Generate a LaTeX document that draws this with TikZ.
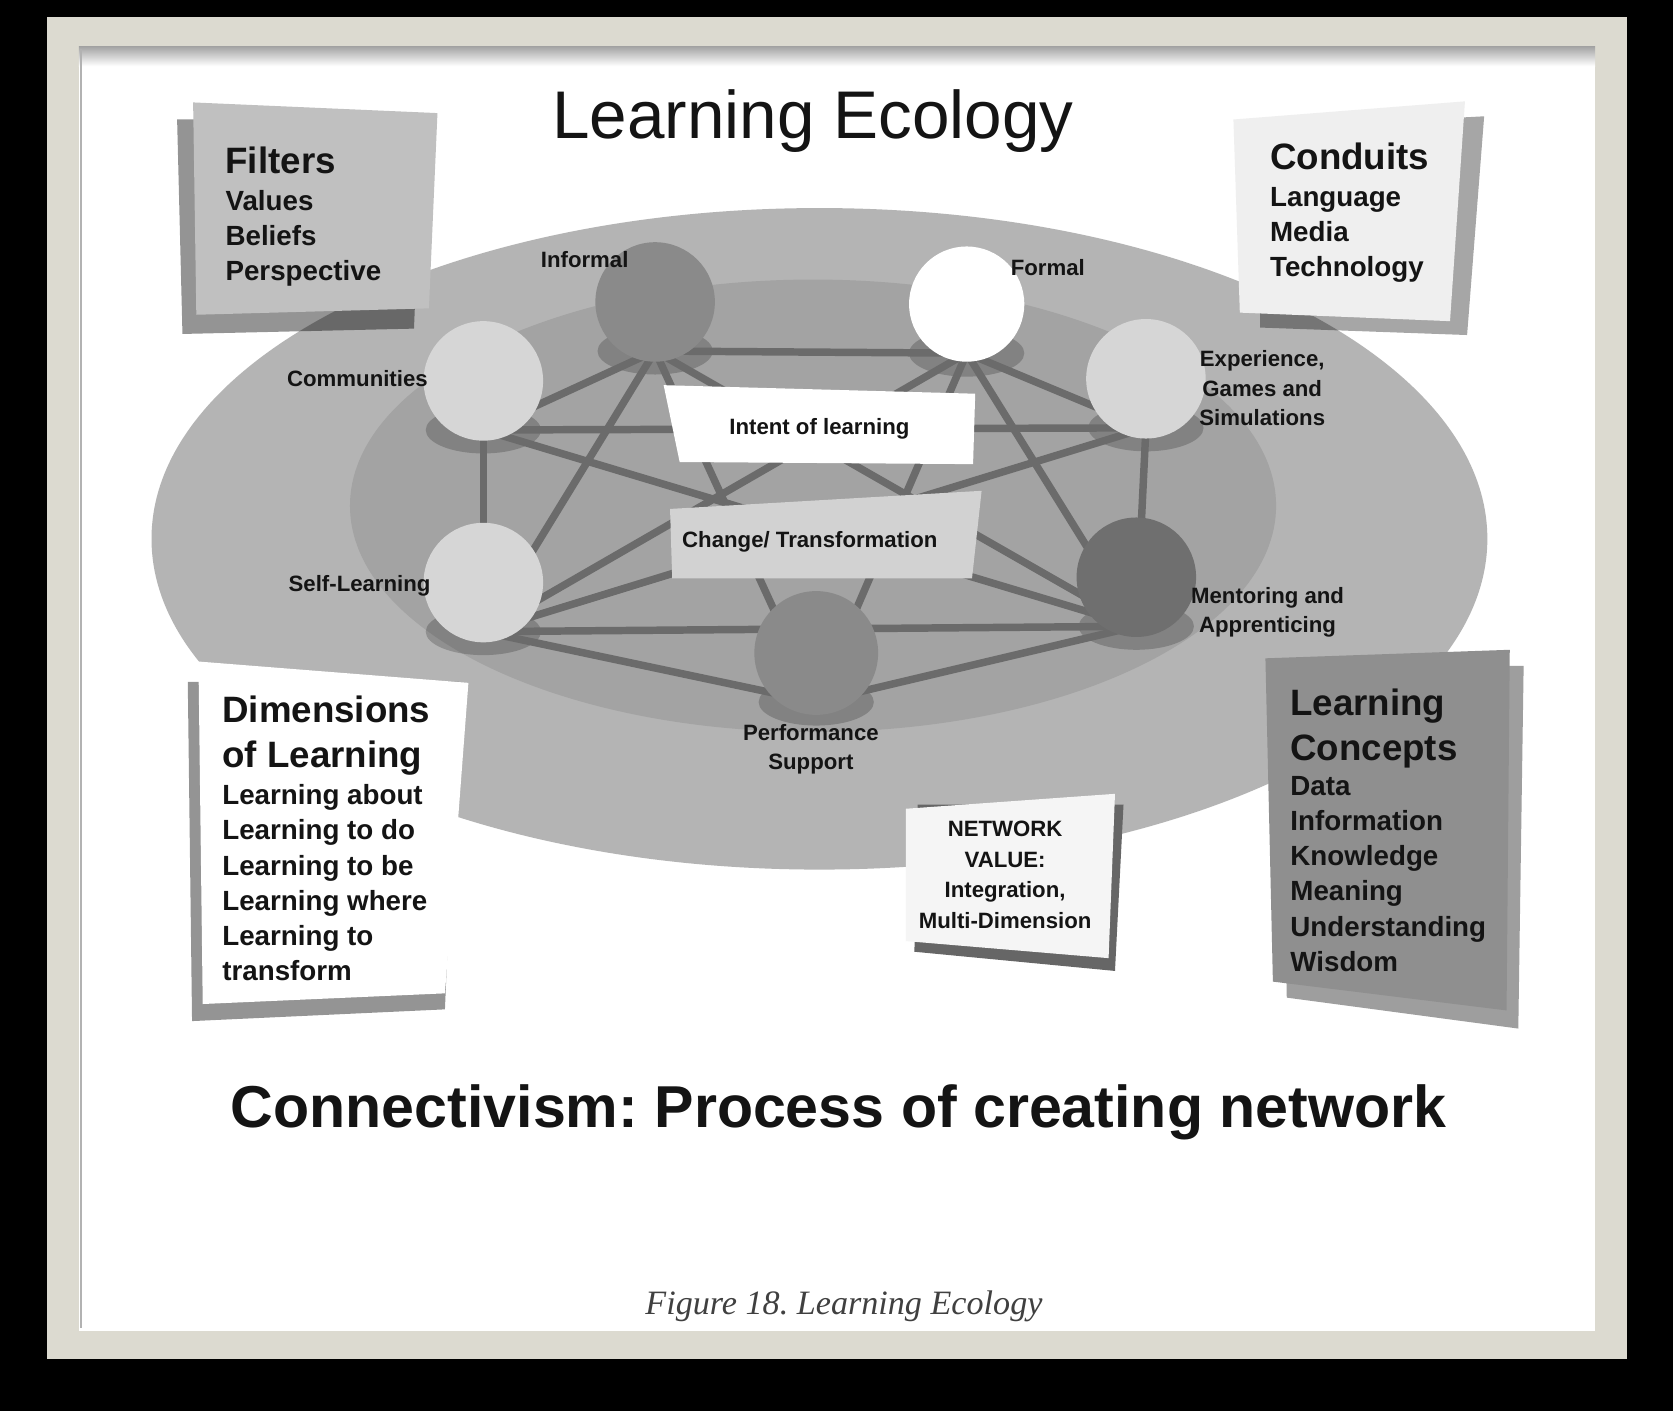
\documentclass[tikz,border=0pt]{standalone}
\usepackage{fontspec}
\setmainfont{Liberation Sans}
\newfontfamily\captionserif{Liberation Serif}
\usetikzlibrary{shapes.geometric}
\frenchspacing

\definecolor{framebeige}{HTML}{DCDAD0}
\definecolor{outerring}{HTML}{B4B4B4}
\definecolor{innerring}{HTML}{A3A3A3}
\definecolor{linkgray}{HTML}{6B6B6B}
\definecolor{ink}{HTML}{141414}
\definecolor{hubdark}{HTML}{6F6F6F}
\definecolor{hubmid}{HTML}{8A8A8A}
\definecolor{hublight}{HTML}{D6D6D6}
\definecolor{changegray}{HTML}{D2D2D2}
\definecolor{filtergray}{HTML}{C0C0C0}
\definecolor{conduitgray}{HTML}{EFEFEF}
\definecolor{conceptgray}{HTML}{8F8F8F}
\definecolor{conceptback}{HTML}{9E9E9E}
\definecolor{valueback}{HTML}{666666}

\pgfdeclarelayer{bg}
\pgfdeclarelayer{links}
\pgfsetlayers{bg,links,main}

\tikzset{
  hub/.style={circle,minimum size=56pt,inner sep=0pt},
  foot/.style={ellipse,minimum width=54pt,minimum height=22pt,inner sep=0pt,
    fill=black,fill opacity=.2},
  link/.style={draw=linkgray,line width=3.5pt},
  tag/.style={font=\bfseries\fontsize{10.4}{13.75}\selectfont,text=ink,
    align=center,inner sep=0pt},
  cardhead/.style={font=\bfseries\fontsize{17.2}{21}\selectfont,text=ink,
    align=left,anchor=north west,inner sep=0pt},
  cardlist/.style={font=\bfseries\fontsize{13}{16.5}\selectfont,text=ink,
    align=left,anchor=north west,inner sep=0pt},
  drop/.style={fill=black,fill opacity=.42},
}

\begin{document}
\begin{tikzpicture}[x=.5pt,y=-.5pt]
  \begin{pgfonlayer}{bg}
    % frame
    \fill[black] (0,0) rectangle (1568,1322);
    \fill[framebeige] (44,16) rectangle (1525,1274);
    \fill[white] (74,44) rectangle (1495,1247);
    \shade[top color=black!35,bottom color=white] (74,44) rectangle (1495,62);
    \draw[black!30,line width=1pt] (76,46) -- (76,1245);
    % ecology rings
    \fill[outerring] (768,505) ellipse [x radius=626,y radius=310];
    \fill[innerring] (762,474) ellipse [x radius=434,y radius=212];
    % feet under the hubs
    \node[foot] (informal-ft)    at (614,329) {};
    \node[foot] (formal-ft)      at (906,331) {};
    \node[foot] (communities-ft) at (453,403) {};
    \node[foot] (experience-ft)  at (1074,401) {};
    \node[foot] (selflearn-ft)   at (453,592) {};
    \node[foot] (mentoring-ft)   at (1065,587) {};
    \node[foot] (performance-ft) at (765,658) {};
  \end{pgfonlayer}

  \node[hub,fill=hubmid]   (informal)    at (614,283) {};
  \node[hub,fill=white,minimum size=54pt] (formal) at (906,285) {};
  \node[hub,fill=hublight] (communities) at (453,357) {};
  \node[hub,fill=hublight] (experience)  at (1074,355) {};
  \node[hub,fill=hublight] (selflearn)   at (453,546) {};
  \node[hub,fill=hubdark]  (mentoring)   at (1065,541) {};
  \node[hub,fill=hubmid,minimum size=58pt] (performance) at (765,612) {};

  \begin{pgfonlayer}{links}
    \draw[link] (communities-ft.center) -- (informal-ft.center);
    \draw[link] (informal-ft.center) -- (formal-ft.center);
    \draw[link] (formal-ft.center) -- (experience-ft.center);
    \draw[link] (communities-ft.center) -- (experience-ft.center);
    \draw[link] (communities-ft.center) -- (selflearn-ft.center);
    \draw[link] (experience-ft.center) -- (mentoring-ft.center);
    \draw[link] (selflearn-ft.center) -- (mentoring-ft.center);
    \draw[link] (selflearn-ft.center) -- (performance-ft.center);
    \draw[link] (performance-ft.center) -- (mentoring-ft.center);
    \draw[link] (informal-ft.center) -- (selflearn-ft.center);
    \draw[link] (informal-ft.center) -- (performance-ft.center);
    \draw[link] (informal-ft.center) -- (mentoring-ft.center);
    \draw[link] (formal-ft.center) -- (selflearn-ft.center);
    \draw[link] (formal-ft.center) -- (performance-ft.center);
    \draw[link] (formal-ft.center) -- (mentoring-ft.center);
    \draw[link] (communities-ft.center) -- (mentoring-ft.center);
    \draw[link] (experience-ft.center) -- (selflearn-ft.center);
  \end{pgfonlayer}

  % hub labels
  \node[tag] (informal-lbl)    at (548,243) {Informal};
  \node[tag] (formal-lbl)      at (982,251) {Formal};
  \node[tag] (communities-lbl) at (335,355) {Communities};
  \node[tag] (experience-lbl)  at (1183,364) {Experience,\\Games and\\Simulations};
  \node[tag] (selflearn-lbl)   at (337,549) {Self-Learning};
  \node[tag] (mentoring-lbl)   at (1188,574) {Mentoring and\\Apprenticing};
  \node[tag] (performance-lbl) at (760,702) {Performance\\Support};

  % centre slips
  \fill[white] (622,361) -- (914,369) -- (912,435) -- (637,433) -- cycle;
  \node[tag] (intent) at (768,402) {Intent of learning};
  \fill[changegray] (628,477) -- (920,460) -- (911,542) -- (630,542) -- cycle;
  \node[tag] (change) at (759,508) {Change/ Transformation};

  % filters card
  \fill[drop] (166,112) -- (396,112) -- (388,308) -- (171,313) -- cycle;
  \fill[filtergray] (181,96) -- (410,106) -- (402,289) -- (184,295) -- cycle;
  \node[cardhead] (filters) at (211,137) {Filters};
  \node[cardlist] (filters-list) at (211,178) {Values\\Beliefs\\Perspective};

  % conduits card
  \fill[drop,fill opacity=.35] (1181,120) -- (1391,109) -- (1375,314) -- (1181,307) -- cycle;
  \fill[conduitgray] (1156,112) -- (1373,95) -- (1359,301) -- (1162,293) -- cycle;
  \node[cardhead] (conduits) at (1190,134) {Conduits};
  \node[cardlist] (conduits-list) at (1190,175) {Language\\Media\\Technology};

  % dimensions card
  \fill[drop] (176,639) -- (430,639) -- (417,946) -- (180,957) -- cycle;
  \fill[white] (186,620) -- (439,640) -- (417,931) -- (190,941) -- cycle;
  \node[cardhead] (dimensions) at (208,652) {Dimensions\\of Learning};
  \node[cardlist] (dimensions-list) at (208,735)
    {Learning about\\Learning to do\\Learning to be\\Learning where\\Learning to\\transform};

  % concepts card
  \fill[conceptback] (1200,625) -- (1428,624) -- (1423,964) -- (1206,935) -- cycle;
  \fill[conceptgray] (1186,617) -- (1415,609) -- (1412,947) -- (1193,920) -- cycle;
  \node[cardhead] (concepts) at (1209,645) {Learning\\Concepts};
  \node[cardlist] (concepts-list) at (1209,727)
    {Data\\Information\\Knowledge\\Meaning\\Understanding\\Wisdom};

  % network value card
  \fill[valueback] (860,754) -- (1053,754) -- (1045,910) -- (857,892) -- cycle;
  \fill[black!4] (849,758) -- (1045,744) -- (1039,898) -- (849,882) -- cycle;
  \node[tag,font=\bfseries\fontsize{10.4}{14.25}\selectfont] (netvalue) at (942,820)
    {NETWORK\\VALUE:\\Integration,\\Multi-Dimension};

  % titles
  \node[anchor=base,inner sep=0pt,text=ink,font=\fontsize{31.6}{36}\selectfont]
    (title) at (762,130) {Learning Ecology};
  \node[anchor=base,inner sep=0pt,text=ink,font=\bfseries\fontsize{27.7}{32}\selectfont]
    (subtitle) at (786,1057) {Connectivism: Process of creating network};
  \node[anchor=base,inner sep=0pt,text=black!75,font=\captionserif\itshape\fontsize{16}{19}\selectfont]
    (caption) at (791,1232) {Figure 18. Learning Ecology};
\end{tikzpicture}
\end{document}
